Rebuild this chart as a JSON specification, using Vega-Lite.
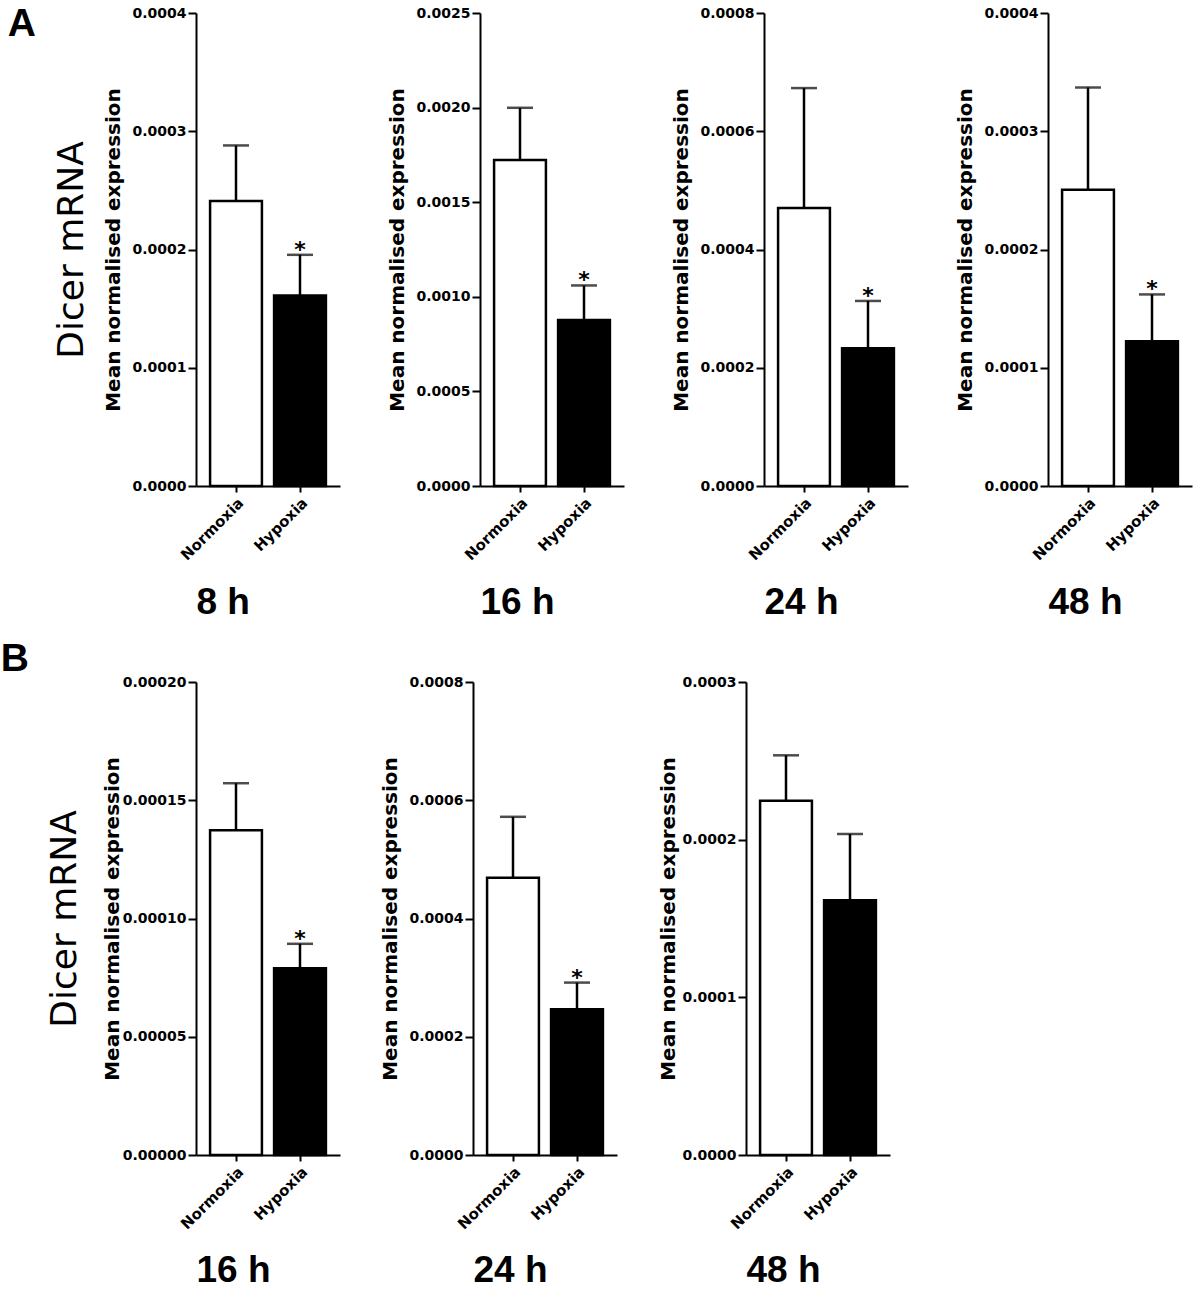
{
  "$schema": "https://vega.github.io/schema/vega-lite/v6.json",
  "background": "white",
  "padding": {"left": 0, "top": 5, "right": 5, "bottom": 0},
  "datasets": {
    "d": [
      {"panel": "A8", "condition": "Normoxia", "mean": 0.000241, "upper": 0.000288, "sig": ""},
      {"panel": "A8", "condition": "Hypoxia", "mean": 0.000161, "upper": 0.0001955, "sig": "*"},
      {"panel": "A16", "condition": "Normoxia", "mean": 0.001723, "upper": 0.001999, "sig": ""},
      {"panel": "A16", "condition": "Hypoxia", "mean": 0.000877, "upper": 0.00106, "sig": "*"},
      {"panel": "A24", "condition": "Normoxia", "mean": 0.00047, "upper": 0.000673, "sig": ""},
      {"panel": "A24", "condition": "Hypoxia", "mean": 0.000233, "upper": 0.000313, "sig": "*"},
      {"panel": "A48", "condition": "Normoxia", "mean": 0.0002505, "upper": 0.000337, "sig": ""},
      {"panel": "A48", "condition": "Hypoxia", "mean": 0.0001224, "upper": 0.000162, "sig": "*"},
      {"panel": "B16", "condition": "Normoxia", "mean": 0.0001373, "upper": 0.0001572, "sig": ""},
      {"panel": "B16", "condition": "Hypoxia", "mean": 0.000079, "upper": 0.0000893, "sig": "*"},
      {"panel": "B24", "condition": "Normoxia", "mean": 0.000469, "upper": 0.000572, "sig": ""},
      {"panel": "B24", "condition": "Hypoxia", "mean": 0.0002465, "upper": 0.0002916, "sig": "*"},
      {"panel": "B48", "condition": "Normoxia", "mean": 0.0002247, "upper": 0.0002535, "sig": ""},
      {"panel": "B48", "condition": "Hypoxia", "mean": 0.0001615, "upper": 0.0002036, "sig": ""}
    ]
  },
  "config": {
    "view": {"stroke": null},
    "axis": {"domainColor": "black", "domainWidth": 2, "tickColor": "black", "tickWidth": 2, "labelColor": "black", "titleColor": "black", "grid": false, "labelFont": "DejaVu Sans", "labelFontWeight": "bold"},
    "axisX": {"labelAngle": -45, "labelFontSize": 15, "tickSize": 6, "labelPadding": 3, "titleFont": "Liberation Sans", "titleFontSize": 37, "titleFontWeight": "bold", "titlePadding": 22, "titleAnchor": "start"},
    "axisY": {"labelFontSize": 14, "tickSize": 8, "labelPadding": 2, "titleFont": "DejaVu Sans", "titleFontSize": 20, "titleFontWeight": "bold", "titlePadding": 8}
  },
  "columns": 1,
  "align": "none",
  "spacing": 19,
  "concat": [
    {
      "spacing": 47,
      "hconcat": [
        {
          "width": 144, "height": 473,
          "data": {"name": "d"},
          "transform": [{"filter": "datum.panel === 'A8'"}],
          "title": {"text": "A", "orient": "left", "angle": 0, "anchor": "end", "align": "right", "baseline": "top", "font": "Liberation Sans", "fontSize": 39, "fontWeight": "bold", "color": "black", "offset": -11, "dy": -1},
          "resolve": {"axis": {"y": "independent"}},
          "layer": [
            {"mark": {"type": "bar", "stroke": "black", "strokeWidth": 2.5},
             "encoding": {
               "x": {"field": "condition", "type": "nominal", "sort": ["Normoxia", "Hypoxia"], "scale": {"paddingInner": 0.19, "paddingOuter": 0.22}, "axis": {"title": "8 h"}},
               "y": {"field": "mean", "type": "quantitative", "scale": {"domain": [0, 0.0004], "nice": false}, "axis": {"values": [0, 0.0001, 0.0002, 0.0003, 0.0004], "format": ".4f", "title": "Mean normalised expression"}},
               "fill": {"field": "condition", "type": "nominal", "scale": {"domain": ["Normoxia", "Hypoxia"], "range": ["white", "black"]}, "legend": null}}},
            {"mark": {"type": "rule", "strokeWidth": 2.5, "color": "black"},
             "encoding": {
               "x": {"field": "condition", "type": "nominal", "sort": ["Normoxia", "Hypoxia"]},
               "y": {"field": "mean", "type": "quantitative", "axis": {"orient": "left", "title": "Dicer mRNA", "labels": false, "ticks": false, "domain": false, "titleFont": "DejaVu Sans", "titleFontSize": 36, "titleFontWeight": "normal", "titlePadding": 106}},
               "y2": {"field": "upper"}}},
            {"mark": {"type": "tick", "thickness": 2.5, "size": 26, "color": "black"},
             "encoding": {
               "x": {"field": "condition", "type": "nominal", "sort": ["Normoxia", "Hypoxia"]},
               "y": {"field": "upper", "type": "quantitative", "axis": null}}},
            {"mark": {"type": "text", "font": "DejaVu Sans", "fontSize": 22, "fontWeight": "bold", "baseline": "alphabetic", "dy": 2, "color": "black"},
             "encoding": {
               "x": {"field": "condition", "type": "nominal", "sort": ["Normoxia", "Hypoxia"]},
               "y": {"field": "upper", "type": "quantitative", "axis": null},
               "text": {"field": "sig"}}}
          ]
        },
        {
          "width": 144, "height": 473,
          "data": {"name": "d"},
          "transform": [{"filter": "datum.panel === 'A16'"}],
          "layer": [
            {"mark": {"type": "bar", "stroke": "black", "strokeWidth": 2.5},
             "encoding": {
               "x": {"field": "condition", "type": "nominal", "sort": ["Normoxia", "Hypoxia"], "scale": {"paddingInner": 0.19, "paddingOuter": 0.22}, "axis": {"title": "16 h"}},
               "y": {"field": "mean", "type": "quantitative", "scale": {"domain": [0, 0.0025], "nice": false}, "axis": {"values": [0, 0.0005, 0.001, 0.0015, 0.002, 0.0025], "format": ".4f", "title": "Mean normalised expression"}},
               "fill": {"field": "condition", "type": "nominal", "scale": {"domain": ["Normoxia", "Hypoxia"], "range": ["white", "black"]}, "legend": null}}},
            {"mark": {"type": "rule", "strokeWidth": 2.5, "color": "black"},
             "encoding": {
               "x": {"field": "condition", "type": "nominal", "sort": ["Normoxia", "Hypoxia"]},
               "y": {"field": "mean", "type": "quantitative"},
               "y2": {"field": "upper"}}},
            {"mark": {"type": "tick", "thickness": 2.5, "size": 26, "color": "black"},
             "encoding": {
               "x": {"field": "condition", "type": "nominal", "sort": ["Normoxia", "Hypoxia"]},
               "y": {"field": "upper", "type": "quantitative"}}},
            {"mark": {"type": "text", "font": "DejaVu Sans", "fontSize": 22, "fontWeight": "bold", "baseline": "alphabetic", "dy": 2, "color": "black"},
             "encoding": {
               "x": {"field": "condition", "type": "nominal", "sort": ["Normoxia", "Hypoxia"]},
               "y": {"field": "upper", "type": "quantitative"},
               "text": {"field": "sig"}}}
          ]
        },
        {
          "width": 144, "height": 473,
          "data": {"name": "d"},
          "transform": [{"filter": "datum.panel === 'A24'"}],
          "layer": [
            {"mark": {"type": "bar", "stroke": "black", "strokeWidth": 2.5},
             "encoding": {
               "x": {"field": "condition", "type": "nominal", "sort": ["Normoxia", "Hypoxia"], "scale": {"paddingInner": 0.19, "paddingOuter": 0.22}, "axis": {"title": "24 h"}},
               "y": {"field": "mean", "type": "quantitative", "scale": {"domain": [0, 0.0008], "nice": false}, "axis": {"values": [0, 0.0002, 0.0004, 0.0006, 0.0008], "format": ".4f", "title": "Mean normalised expression"}},
               "fill": {"field": "condition", "type": "nominal", "scale": {"domain": ["Normoxia", "Hypoxia"], "range": ["white", "black"]}, "legend": null}}},
            {"mark": {"type": "rule", "strokeWidth": 2.5, "color": "black"},
             "encoding": {
               "x": {"field": "condition", "type": "nominal", "sort": ["Normoxia", "Hypoxia"]},
               "y": {"field": "mean", "type": "quantitative"},
               "y2": {"field": "upper"}}},
            {"mark": {"type": "tick", "thickness": 2.5, "size": 26, "color": "black"},
             "encoding": {
               "x": {"field": "condition", "type": "nominal", "sort": ["Normoxia", "Hypoxia"]},
               "y": {"field": "upper", "type": "quantitative"}}},
            {"mark": {"type": "text", "font": "DejaVu Sans", "fontSize": 22, "fontWeight": "bold", "baseline": "alphabetic", "dy": 2, "color": "black"},
             "encoding": {
               "x": {"field": "condition", "type": "nominal", "sort": ["Normoxia", "Hypoxia"]},
               "y": {"field": "upper", "type": "quantitative"},
               "text": {"field": "sig"}}}
          ]
        },
        {
          "width": 144, "height": 473,
          "data": {"name": "d"},
          "transform": [{"filter": "datum.panel === 'A48'"}],
          "layer": [
            {"mark": {"type": "bar", "stroke": "black", "strokeWidth": 2.5},
             "encoding": {
               "x": {"field": "condition", "type": "nominal", "sort": ["Normoxia", "Hypoxia"], "scale": {"paddingInner": 0.19, "paddingOuter": 0.22}, "axis": {"title": "48 h"}},
               "y": {"field": "mean", "type": "quantitative", "scale": {"domain": [0, 0.0004], "nice": false}, "axis": {"values": [0, 0.0001, 0.0002, 0.0003, 0.0004], "format": ".4f", "title": "Mean normalised expression"}},
               "fill": {"field": "condition", "type": "nominal", "scale": {"domain": ["Normoxia", "Hypoxia"], "range": ["white", "black"]}, "legend": null}}},
            {"mark": {"type": "rule", "strokeWidth": 2.5, "color": "black"},
             "encoding": {
               "x": {"field": "condition", "type": "nominal", "sort": ["Normoxia", "Hypoxia"]},
               "y": {"field": "mean", "type": "quantitative"},
               "y2": {"field": "upper"}}},
            {"mark": {"type": "tick", "thickness": 2.5, "size": 26, "color": "black"},
             "encoding": {
               "x": {"field": "condition", "type": "nominal", "sort": ["Normoxia", "Hypoxia"]},
               "y": {"field": "upper", "type": "quantitative"}}},
            {"mark": {"type": "text", "font": "DejaVu Sans", "fontSize": 22, "fontWeight": "bold", "baseline": "alphabetic", "dy": 2, "color": "black"},
             "encoding": {
               "x": {"field": "condition", "type": "nominal", "sort": ["Normoxia", "Hypoxia"]},
               "y": {"field": "upper", "type": "quantitative"},
               "text": {"field": "sig"}}}
          ]
        }
      ]
    },
    {
      "spacing": 40,
      "hconcat": [
        {
          "width": 144, "height": 473,
          "data": {"name": "d"},
          "transform": [{"filter": "datum.panel === 'B16'"}],
          "title": {"text": "B", "orient": "left", "angle": 0, "anchor": "end", "align": "right", "baseline": "top", "font": "Liberation Sans", "fontSize": 39, "fontWeight": "bold", "color": "black", "offset": -11, "dy": -35},
          "resolve": {"axis": {"y": "independent"}},
          "layer": [
            {"mark": {"type": "bar", "stroke": "black", "strokeWidth": 2.5},
             "encoding": {
               "x": {"field": "condition", "type": "nominal", "sort": ["Normoxia", "Hypoxia"], "scale": {"paddingInner": 0.19, "paddingOuter": 0.22}, "axis": {"title": "16 h", "titlePadding": 21}},
               "y": {"field": "mean", "type": "quantitative", "scale": {"domain": [0, 0.0002], "nice": false}, "axis": {"values": [0, 0.00005, 0.0001, 0.00015, 0.0002], "format": ".5f", "title": "Mean normalised expression", "titlePadding": 0}},
               "fill": {"field": "condition", "type": "nominal", "scale": {"domain": ["Normoxia", "Hypoxia"], "range": ["white", "black"]}, "legend": null}}},
            {"mark": {"type": "rule", "strokeWidth": 2.5, "color": "black"},
             "encoding": {
               "x": {"field": "condition", "type": "nominal", "sort": ["Normoxia", "Hypoxia"]},
               "y": {"field": "mean", "type": "quantitative", "axis": {"orient": "left", "title": "Dicer mRNA", "labels": false, "ticks": false, "domain": false, "titleFont": "DejaVu Sans", "titleFontSize": 36, "titleFontWeight": "normal", "titlePadding": 113}},
               "y2": {"field": "upper"}}},
            {"mark": {"type": "tick", "thickness": 2.5, "size": 26, "color": "black"},
             "encoding": {
               "x": {"field": "condition", "type": "nominal", "sort": ["Normoxia", "Hypoxia"]},
               "y": {"field": "upper", "type": "quantitative", "axis": null}}},
            {"mark": {"type": "text", "font": "DejaVu Sans", "fontSize": 22, "fontWeight": "bold", "baseline": "alphabetic", "dy": 2, "color": "black"},
             "encoding": {
               "x": {"field": "condition", "type": "nominal", "sort": ["Normoxia", "Hypoxia"]},
               "y": {"field": "upper", "type": "quantitative", "axis": null},
               "text": {"field": "sig"}}}
          ]
        },
        {
          "spacing": 41,
          "hconcat": [
            {
              "width": 144, "height": 473,
              "data": {"name": "d"},
              "transform": [{"filter": "datum.panel === 'B24'"}],
              "layer": [
                {"mark": {"type": "bar", "stroke": "black", "strokeWidth": 2.5},
                 "encoding": {
                   "x": {"field": "condition", "type": "nominal", "sort": ["Normoxia", "Hypoxia"], "scale": {"paddingInner": 0.19, "paddingOuter": 0.22}, "axis": {"title": "24 h", "titlePadding": 21}},
                   "y": {"field": "mean", "type": "quantitative", "scale": {"domain": [0, 0.0008], "nice": false}, "axis": {"values": [0, 0.0002, 0.0004, 0.0006, 0.0008], "format": ".4f", "title": "Mean normalised expression"}},
                   "fill": {"field": "condition", "type": "nominal", "scale": {"domain": ["Normoxia", "Hypoxia"], "range": ["white", "black"]}, "legend": null}}},
                {"mark": {"type": "rule", "strokeWidth": 2.5, "color": "black"},
                 "encoding": {
                   "x": {"field": "condition", "type": "nominal", "sort": ["Normoxia", "Hypoxia"]},
                   "y": {"field": "mean", "type": "quantitative"},
                   "y2": {"field": "upper"}}},
                {"mark": {"type": "tick", "thickness": 2.5, "size": 26, "color": "black"},
                 "encoding": {
                   "x": {"field": "condition", "type": "nominal", "sort": ["Normoxia", "Hypoxia"]},
                   "y": {"field": "upper", "type": "quantitative"}}},
                {"mark": {"type": "text", "font": "DejaVu Sans", "fontSize": 22, "fontWeight": "bold", "baseline": "alphabetic", "dy": 2, "color": "black"},
                 "encoding": {
                   "x": {"field": "condition", "type": "nominal", "sort": ["Normoxia", "Hypoxia"]},
                   "y": {"field": "upper", "type": "quantitative"},
                   "text": {"field": "sig"}}}
              ]
            },
            {
              "width": 144, "height": 473,
              "data": {"name": "d"},
              "transform": [{"filter": "datum.panel === 'B48'"}],
              "layer": [
                {"mark": {"type": "bar", "stroke": "black", "strokeWidth": 2.5},
                 "encoding": {
                   "x": {"field": "condition", "type": "nominal", "sort": ["Normoxia", "Hypoxia"], "scale": {"paddingInner": 0.19, "paddingOuter": 0.22}, "axis": {"title": "48 h", "titlePadding": 21}},
                   "y": {"field": "mean", "type": "quantitative", "scale": {"domain": [0, 0.0003], "nice": false}, "axis": {"values": [0, 0.0001, 0.0002, 0.0003], "format": ".4f", "title": "Mean normalised expression", "titlePadding": 3}},
                   "fill": {"field": "condition", "type": "nominal", "scale": {"domain": ["Normoxia", "Hypoxia"], "range": ["white", "black"]}, "legend": null}}},
                {"mark": {"type": "rule", "strokeWidth": 2.5, "color": "black"},
                 "encoding": {
                   "x": {"field": "condition", "type": "nominal", "sort": ["Normoxia", "Hypoxia"]},
                   "y": {"field": "mean", "type": "quantitative"},
                   "y2": {"field": "upper"}}},
                {"mark": {"type": "tick", "thickness": 2.5, "size": 26, "color": "black"},
                 "encoding": {
                   "x": {"field": "condition", "type": "nominal", "sort": ["Normoxia", "Hypoxia"]},
                   "y": {"field": "upper", "type": "quantitative"}}},
                {"mark": {"type": "text", "font": "DejaVu Sans", "fontSize": 22, "fontWeight": "bold", "baseline": "alphabetic", "dy": 2, "color": "black"},
                 "encoding": {
                   "x": {"field": "condition", "type": "nominal", "sort": ["Normoxia", "Hypoxia"]},
                   "y": {"field": "upper", "type": "quantitative"},
                   "text": {"field": "sig"}}}
              ]
            }
          ]
        }
      ]
    }
  ]
}
